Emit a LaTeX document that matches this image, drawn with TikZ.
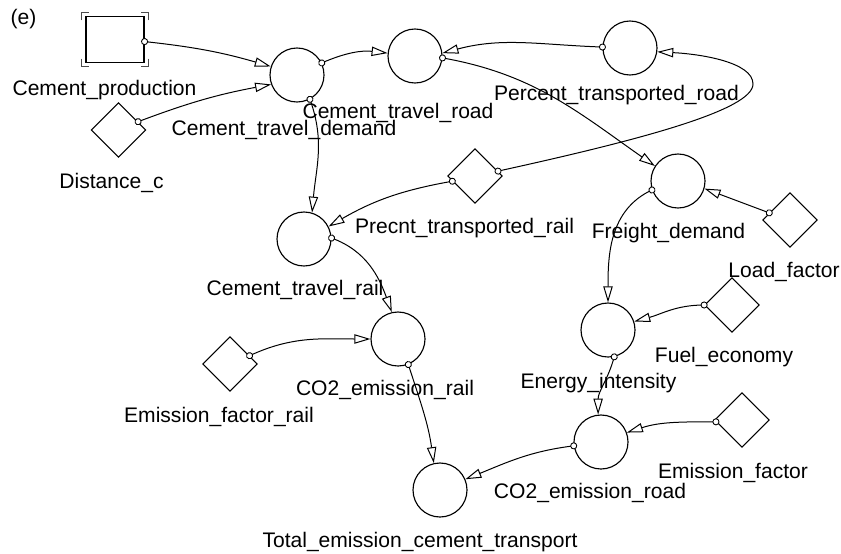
\documentclass[tikz,border=0pt]{standalone}
\usepackage{fontspec}
\setmainfont{Liberation Sans}
\usetikzlibrary{arrows.meta,shapes.geometric,decorations.markings}

\begin{document}
\begin{tikzpicture}[x=0.75pt,y=-0.75pt,
  every node/.style={font=\fontsize{15.8}{18}\selectfont},
  auxnode/.style={circle,draw,line width=.85pt,minimum size=40.5pt,inner sep=0pt},
  constnode/.style={diamond,draw,line width=.85pt,minimum width=41pt,minimum height=41pt,inner sep=0pt,aspect=1},
  stockbox/.style={rectangle,draw,line width=.85pt,minimum width=43.5pt,minimum height=34pt,inner sep=0pt},
  bracketline/.style={draw=black!70,line width=1.1pt},
  lbl/.style={anchor=base,inner sep=0pt},
  conn/.style={line width=.75pt,-{Triangle[open,length=12pt,width=7pt,line width=.75pt]},
    decoration={markings,mark=at position 0 with {\draw[-,fill=white,line width=.65pt] (0,0) circle (2.3pt);}},
    postaction=decorate}
]
\useasboundingbox (0,0) rectangle (841,553);

% stock and its corner brackets
\node[stockbox] (prod) at (115,39.5) {};
\foreach \a/\sx/\sy in {north west/1/1, north east/-1/1, south west/1/-1, south east/-1/-1}
  \draw[bracketline] ([shift={(-4*\sx,-4*\sy)}]prod.\a) ++(0,8*\sy) -- ++(0,-8*\sy) -- ++(8*\sx,0);

% auxiliaries
\node[auxnode] (ctd)     at (297,75)  {};
\node[auxnode] (ctr)     at (415,56)  {};
\node[auxnode] (ptr)     at (630,48)  {};
\node[auxnode] (ctrl)    at (304,239) {};
\node[auxnode] (co2r)    at (398,339) {};
\node[auxnode] (total)   at (440,490) {};
\node[auxnode] (co2road) at (601,442) {};
\node[auxnode] (ei)      at (608,330) {};
\node[auxnode] (fd)      at (678,181) {};

% constants
\node[constnode] (dist) at (118.5,130) {};
\node[constnode] (pcr)  at (475,176) {};
\node[constnode] (efr)  at (230,364) {};
\node[constnode] (ef)   at (742,420) {};
\node[constnode] (lf)   at (790,220) {};
\node[constnode] (fe)   at (732,305) {};

% labels
\node[lbl] (l-e)       at (23.5,24)  {(e)};
\node[lbl] (l-prod)    at (104.5,95) {Cement\_production};
\node[lbl] (l-dist)    at (111.5,188) {Distance\_c};
\node[lbl] (l-ctd)     at (284,135)  {Cement\_travel\_demand};
\node[lbl] (l-ctr)     at (398,118)  {Cement\_travel\_road};
\node[lbl] (l-ptr)     at (616.5,100) {Percent\_transported\_road};
\node[lbl] (l-pcr)     at (464.5,233) {Precnt\_transported\_rail};
\node[lbl] (l-ctrl)    at (295,295)  {Cement\_travel\_rail};
\node[lbl] (l-co2r)    at (385,395)  {CO2\_emission\_rail};
\node[lbl] (l-efr)     at (219,422)  {Emission\_factor\_rail};
\node[lbl] (l-total)   at (420,547)  {Total\_emission\_cement\_transport};
\node[lbl] (l-co2road) at (590,498)  {CO2\_emission\_road};
\node[lbl] (l-ef)      at (733,478)  {Emission\_factor};
\node[lbl] (l-ei)      at (598.5,388) {Energy\_intensity};
\node[lbl] (l-fd)      at (668.5,238) {Freight\_demand};
\node[lbl] (l-lf)      at (784,277)  {Load\_factor};
\node[lbl] (l-fe)      at (724,362)  {Fuel\_economy};

% connectors
\coordinate (turn) at (753,84);
\draw[conn] (prod.-4) to[bend left=5] (ctd.162);
\draw[conn] (dist.23) to[bend left=5] (ctd.200);
\draw[conn] (ctd.26) to[bend left=15] (ctr.174);
\draw[conn] (ptr.178) to[out=178,in=15] (ctr.6);
\draw[conn] (ctr.-4) to[out=-10,in=145] (fd.147);
\draw[conn] (pcr.12) .. controls (640,140) and (753,110) .. (turn)
                     .. controls (753,62) and (700,54) .. (ptr.-8);
\draw[conn] (ctd.298) to[out=-70,in=85] (ctrl.73);
\draw[conn] (pcr.193) to[out=190,in=30] (ctrl.27);
\draw[conn] (ctrl.2) to[out=-20,in=110] (co2r.103);
\draw[conn] (efr.23) to[out=25,in=180] (co2r.180);
\draw[conn] (co2r.-68) to[out=-72,in=98] (total.103);
\draw[conn] (co2road.188) to[out=187,in=22] (total.23);
\draw[conn] (ef.184) to[out=180,in=18] (co2road.20);
\draw[conn] (ei.-77) to[out=-105,in=90] (co2road.96);
\draw[conn] (fd.199) to[out=205,in=90] (ei.90);
\draw[conn] (lf.161) -- (fd.-16);
\draw[conn] (fe.180) to[out=180,in=15] (ei.18);
\end{tikzpicture}
\end{document}
